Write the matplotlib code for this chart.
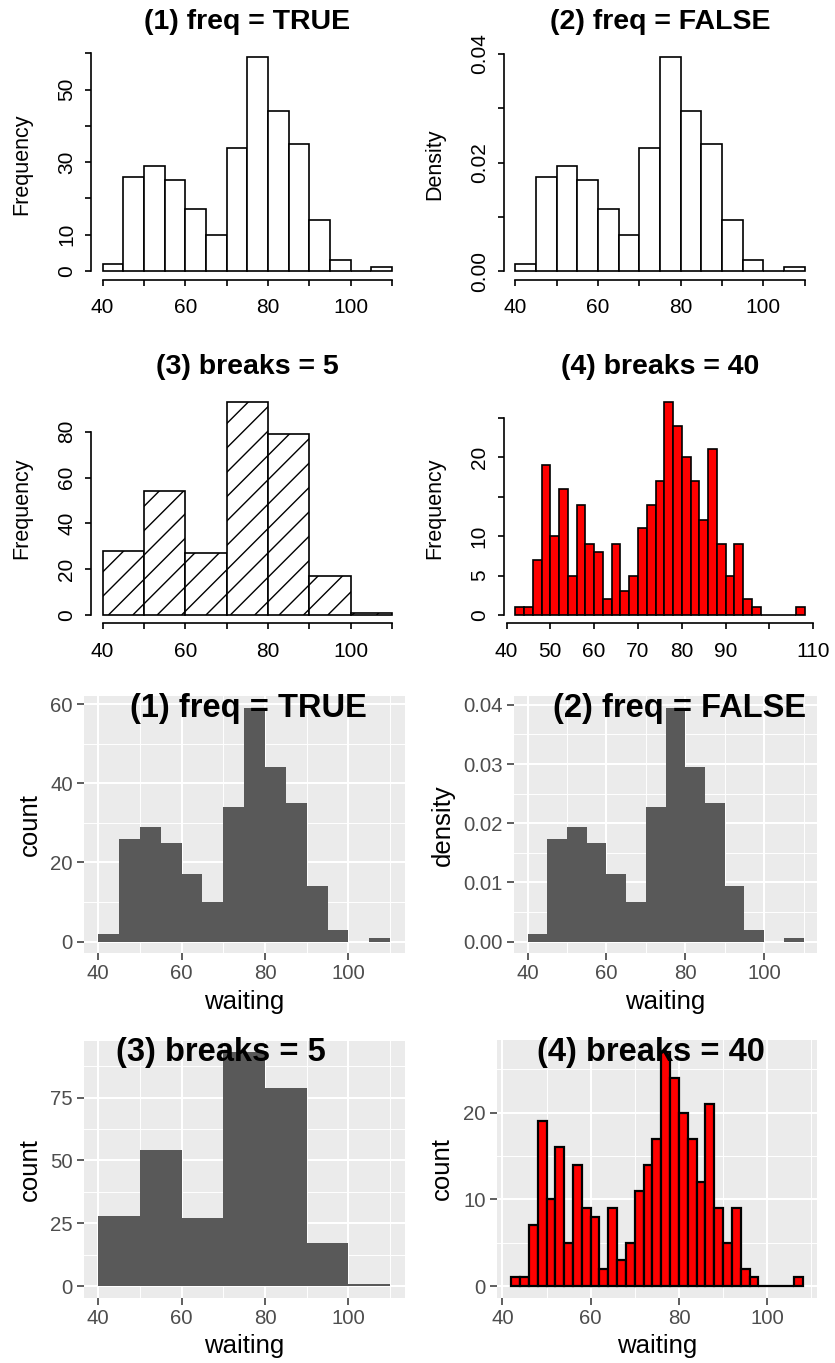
import numpy as np
import matplotlib.pyplot as plt
from matplotlib.collections import LineCollection

plt.rcParams['font.family'] = ['Liberation Sans', 'DejaVu Sans']

W, H = 835, 1363

# waiting times (n = 299), default 5-minute bins
edges_5 = np.arange(40, 111, 5)
counts_5 = [2, 26, 29, 25, 17, 10, 34, 59, 44, 35, 14, 3, 0, 1]

# breaks = 5 -> pretty breaks every 10 minutes
edges_10 = np.arange(40, 111, 10)
counts_10 = [28, 54, 27, 93, 79, 17, 1]

# breaks = 40 -> 2-minute bins from 42 to 108
edges_2 = np.arange(42, 109, 2)
counts_2 = [1, 1, 7, 19, 10, 16, 5, 14, 9, 8, 2, 9, 3, 5, 11, 14, 17,
			27, 24, 20, 17, 12, 21, 9, 5, 9, 2, 1, 0, 0, 0, 0, 1]

titles = ['(1) freq = TRUE', '(2) freq = FALSE', '(3) breaks = 5', '(4) breaks = 40']

density_5 = np.array(counts_5) / (sum(counts_5) * 5)


def px_axes(fig, left, top, right, bottom):
	return fig.add_axes([left / W, 1 - bottom / H, (right - left) / W, (bottom - top) / H])


def label_x(ax, px):
	l, r = ax.get_position().x0 * W, ax.get_position().x1 * W
	return (px - l) / (r - l)


def label_y(ax, py):
	b, t = H - ax.get_position().y0 * H, H - ax.get_position().y1 * H
	return (b - py) / (b - t)


def base_hist(ax, edges, heights, title, ylabel, xticks, xlabels, yticks, ylabels,
			  fill='white', ylabel_px=22):
	bars = ax.bar(edges[:-1], heights, width=np.diff(edges), align='edge',
				  color=fill, edgecolor='black', linewidth=1.2)
	span = edges[-1] - edges[0]
	ymax = max(heights)
	ax.set_xlim(edges[0] - 0.04 * span, edges[-1] + 0.04 * span)
	ax.set_ylim(-0.04 * ymax, 1.04 * ymax)
	for side in ['top', 'right']:
		ax.spines[side].set_visible(False)
	for side in ['left', 'bottom']:
		ax.spines[side].set_linewidth(1.2)
	ax.spines['left'].set_bounds(yticks[0], yticks[-1])
	ax.spines['bottom'].set_bounds(xticks[0], xticks[-1])
	ax.set_xticks(xticks, xlabels)
	ax.set_yticks(yticks, ylabels, rotation=90, va='center')
	ax.tick_params(direction='out', length=4.5, width=1.2, labelsize=15)
	ax.tick_params(axis='x', pad=8.5)
	ax.tick_params(axis='y', pad=6.3)
	ax.set_ylabel(ylabel, fontsize=15.5, va='center')
	ax.yaxis.set_label_coords(label_x(ax, ylabel_px), 0.5)
	ax.set_title(title, fontweight='bold', fontsize=20.5, pad=13.7)
	return bars


def add_hatch(ax, bars, start=41.4, spacing=5.9):
	# 45 degree lines on screen, shared across all bars
	p0 = ax.transData.transform((0, 0))
	p1 = ax.transData.transform((1, 1))
	slope = (p1[0] - p0[0]) / (p1[1] - p0[1])
	top = 200
	segs = [[(c, 0), (c + top / slope, top)] for c in np.arange(start - 80 * spacing, 115, spacing)]
	for patch in bars:
		lc = LineCollection(segs, colors='black', linewidths=1.0)
		ax.add_collection(lc, autolim=False)
		lc.set_clip_path(patch)


def gg_hist(ax, edges, heights, title, title_x, ylabel, yticks, ylabels, yminor,
			fill='#595959', edge='none', lw=0.0, ylabel_px=29.5):
	ax.set_facecolor('#EBEBEB')
	ax.bar(edges[:-1], heights, width=np.diff(edges), align='edge',
		   color=fill, edgecolor=edge, linewidth=lw, zorder=3)
	span = edges[-1] - edges[0]
	ymax = max(heights)
	ax.set_xlim(edges[0] - 0.05 * span, edges[-1] + 0.05 * span)
	ax.set_ylim(-0.05 * ymax, 1.05 * ymax)
	for s in ax.spines.values():
		s.set_visible(False)
	ax.set_xticks([40, 60, 80, 100])
	ax.set_xticks([50, 70, 90, 110], minor=True)
	ax.set_yticks(yticks, ylabels)
	ax.set_yticks(yminor, minor=True)
	ax.grid(which='major', color='white', linewidth=1.45)
	ax.grid(which='minor', color='white', linewidth=0.7)
	ax.set_axisbelow(True)
	ax.tick_params(which='minor', length=0)
	ax.tick_params(which='major', length=4.8, width=1.1, color='#333333',
				   labelcolor='#4D4D4D', labelsize=14.7, pad=3)
	ax.set_xlabel('waiting', fontsize=18.5, va='center')
	ax.set_ylabel(ylabel, fontsize=18.5, va='center')
	ax.xaxis.set_label_coords(0.5, label_y(ax, ax_bottom_px(ax) + 48.5))
	ax.yaxis.set_label_coords(label_x(ax, ylabel_px), 0.5)
	ax.text(title_x, 0.92, title, transform=ax.transAxes, ha='center', va='baseline',
			fontsize=23.5, fontweight='bold', zorder=5)


def ax_bottom_px(ax):
	return H - ax.get_position().y0 * H


def main() -> None:
	fig = plt.figure(figsize=(W / 100, H / 100), dpi=100)

	# base graphics style
	ax = px_axes(fig, 91.1, 48.4, 403.5, 279.6)
	base_hist(ax, edges_5, counts_5, titles[0], 'Frequency',
			  range(40, 111, 10), ['40', '', '60', '', '80', '', '100', ''],
			  range(0, 61, 10), ['0', '10', '', '30', '', '50', ''])

	ax = px_axes(fig, 503.7, 48.4, 816.1, 279.6)
	base_hist(ax, edges_5, density_5, titles[1], 'Density',
			  range(40, 111, 10), ['40', '', '60', '', '80', '', '100', ''],
			  [0, 0.01, 0.02, 0.03, 0.04], ['0.00', '', '0.02', '', '0.04'], ylabel_px=434.7)

	ax = px_axes(fig, 91.1, 393.5, 403.5, 623.5)
	bars = base_hist(ax, edges_10, counts_10, titles[2], 'Frequency',
					 range(40, 111, 10), ['40', '', '60', '', '80', '', '100', ''],
					 range(0, 81, 20), ['0', '20', '40', '60', '80'])
	add_hatch(ax, bars)

	ax = px_axes(fig, 503.7, 393.5, 816.1, 623.5)
	base_hist(ax, edges_2, counts_2, titles[3], 'Frequency',
			  range(40, 111, 10), ['40', '50', '60', '70', '80', '90', '', '110'],
			  range(0, 26, 5), ['0', '5', '10', '', '20', ''], fill='red', ylabel_px=435)

	# ggplot style
	ax = px_axes(fig, 83.7, 696.3, 404.6, 953.4)
	gg_hist(ax, edges_5, counts_5, titles[0], 0.512, 'count',
			[0, 20, 40, 60], ['0', '20', '40', '60'], [10, 30, 50])

	ax = px_axes(fig, 513.9, 696.3, 817.3, 953.4)
	gg_hist(ax, edges_5, density_5, titles[1], 0.545, 'density',
			[0, 0.01, 0.02, 0.03, 0.04], ['0.00', '0.01', '0.02', '0.03', '0.04'],
			[0.005, 0.015, 0.025, 0.035], ylabel_px=443.3)

	ax = px_axes(fig, 83.7, 1040.8, 404.6, 1297.7)
	gg_hist(ax, edges_10, counts_10, titles[2], 0.426, 'count',
			[0, 25, 50, 75], ['0', '25', '50', '75'], [12.5, 37.5, 62.5, 87.5])

	ax = px_axes(fig, 496.6, 1040.3, 817.2, 1297.7)
	gg_hist(ax, edges_2, counts_2, titles[3], 0.481, 'count',
			[0, 10, 20], ['0', '10', '20'], [5, 15, 25],
			fill='red', edge='black', lw=1.6, ylabel_px=442)

	fig.savefig('out.png', dpi=100)


if __name__ == '__main__':
	main()
